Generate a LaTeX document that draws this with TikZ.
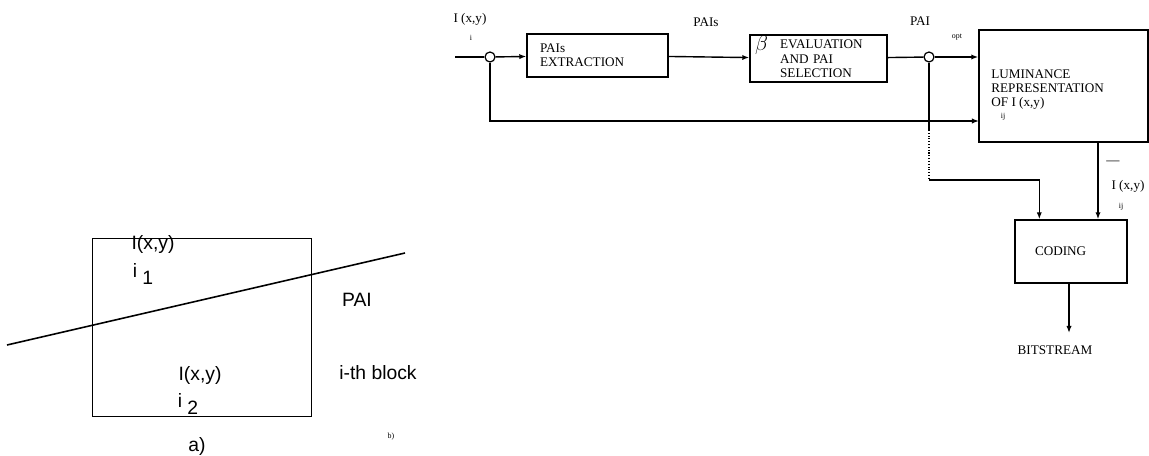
\documentclass[tikz,border=0pt]{standalone}
\usepackage{fontspec}
\setmainfont{Liberation Serif}
\newfontfamily\blockfont{Liberation Sans}
\usetikzlibrary{arrows.meta}

\begin{document}
\begin{tikzpicture}[x=0.02cm, y=-0.02cm,
  box/.style={draw, line width=0.8pt, inner sep=0pt, font=\fontsize{7.5}{7.8}\selectfont},
  junct/.style={draw, circle, line width=0.7pt, minimum size=0.2cm, inner sep=0pt},
  arr/.style={-{Latex[length=4pt,width=3pt]}, line width=0.8pt},
  lbl/.style={inner sep=0pt, font=\fontsize{7.5}{8}\selectfont},
  sub/.style={inner sep=0pt, font=\fontsize{4.5}{5}\selectfont},
  albl/.style={inner sep=0pt, font=\blockfont\fontsize{11}{12}\selectfont}]
  \useasboundingbox (0,0) rectangle (1149,456);

  % a) one block cut by a PAI
  \draw[line width=0.5pt] (92,238) rectangle (311,416);
  \draw[line width=0.9pt] (7,345) -- (405,253);
  \node[albl] (up) at (153,245) {I(x,y)};
  \node[albl] (upi) at (143,274) {i\hspace{3pt}\raisebox{-4pt}{1}};
  \node[albl] (dn) at (200,375) {I(x,y)};
  \node[albl] (dni) at (188,404) {i\hspace{3pt}\raisebox{-4pt}{2}};
  \node[albl] (pai) at (357,300) {PAI};
  \node[albl] (blk) at (378,373) {i-th block};
  \node[albl] (capa) at (197,446) {a)};

  % b) coding scheme
  \coordinate (in) at (455,57);
  \node[junct] (j1) at (490,57) {};
  \node[box, minimum width=141*0.02cm, minimum height=43*0.02cm,
    text width=115*0.02cm, align=left] (ext) at (597.5,55.5) {PAIs\\EXTRACTION};
  \node[box, minimum width=137*0.02cm, minimum height=47*0.02cm,
    text width=127*0.02cm, align=left] (sel) at (818.5,58.5)
    {\begin{tabular}{@{}l@{\hspace{7pt}}l@{}}
      \raisebox{-1pt}{\fontsize{12}{12}\selectfont$\beta$} & EVALUATION\\
      & AND PAI\\
      & SELECTION
    \end{tabular}};
  \node[junct] (j2) at (929,57) {};
  \node[box, minimum width=169*0.02cm, minimum height=112*0.02cm] (lum) at (1063.5,86) {};
  \node[lbl, anchor=north west, align=left] (lumtxt) at (991,69)
    {LUMINANCE\\REPRESENTATION\\OF I (x,y)};
  \node[sub] (lumij) at (1003,117) {ij};
  \node[box, minimum width=112*0.02cm, minimum height=63*0.02cm,
    text width=72*0.02cm, align=left] (cod) at (1071,251.5) {CODING};
  \node[lbl] (bits) at (1055,350) {BITSTREAM};

  \node[lbl] (iin) at (470,19) {I (x,y)};
  \node[sub] (iini) at (471,38) {i};
  \node[lbl] (pais) at (706,22) {PAIs};
  \node[lbl] (paiopt) at (920,21) {PAI};
  \node[sub] (opt) at (957,37) {opt};
  \node[lbl] (ibar) at (1113,163) {---};
  \node[lbl] (iout) at (1128,186) {I (x,y)};
  \node[sub] (iouti) at (1121,207) {ij};
  \node[sub] (capb) at (391,437) {b)};

  \coordinate (fb) at (979,121);
  \coordinate (d1) at (929,130);
  \coordinate (bend) at (929,180);
  \coordinate (lumout) at (1098,142);
  \coordinate (out) at (1069,333);

  \draw[line width=0.8pt] (in) -- (j1);
  \draw[arr] (j1) -- (ext);
  \draw[arr] (ext) -- (sel);
  \draw[line width=0.8pt] (sel) -- (j2);
  \draw[arr] (j2) -- (j2 -| lum.west);
  \draw[arr] (j1) |- (fb);
  \draw[line width=0.8pt] (j2) -- (d1);
  \draw[line width=0.6pt, densely dotted] (d1) -- (bend);
  \draw[arr] (bend) -| ([xshift=0.5cm]cod.north west);
  \draw[arr] (lumout) -- (lumout |- cod.north);
  \draw[arr] (cod.south -| out) -- (out);
\end{tikzpicture}
\end{document}
